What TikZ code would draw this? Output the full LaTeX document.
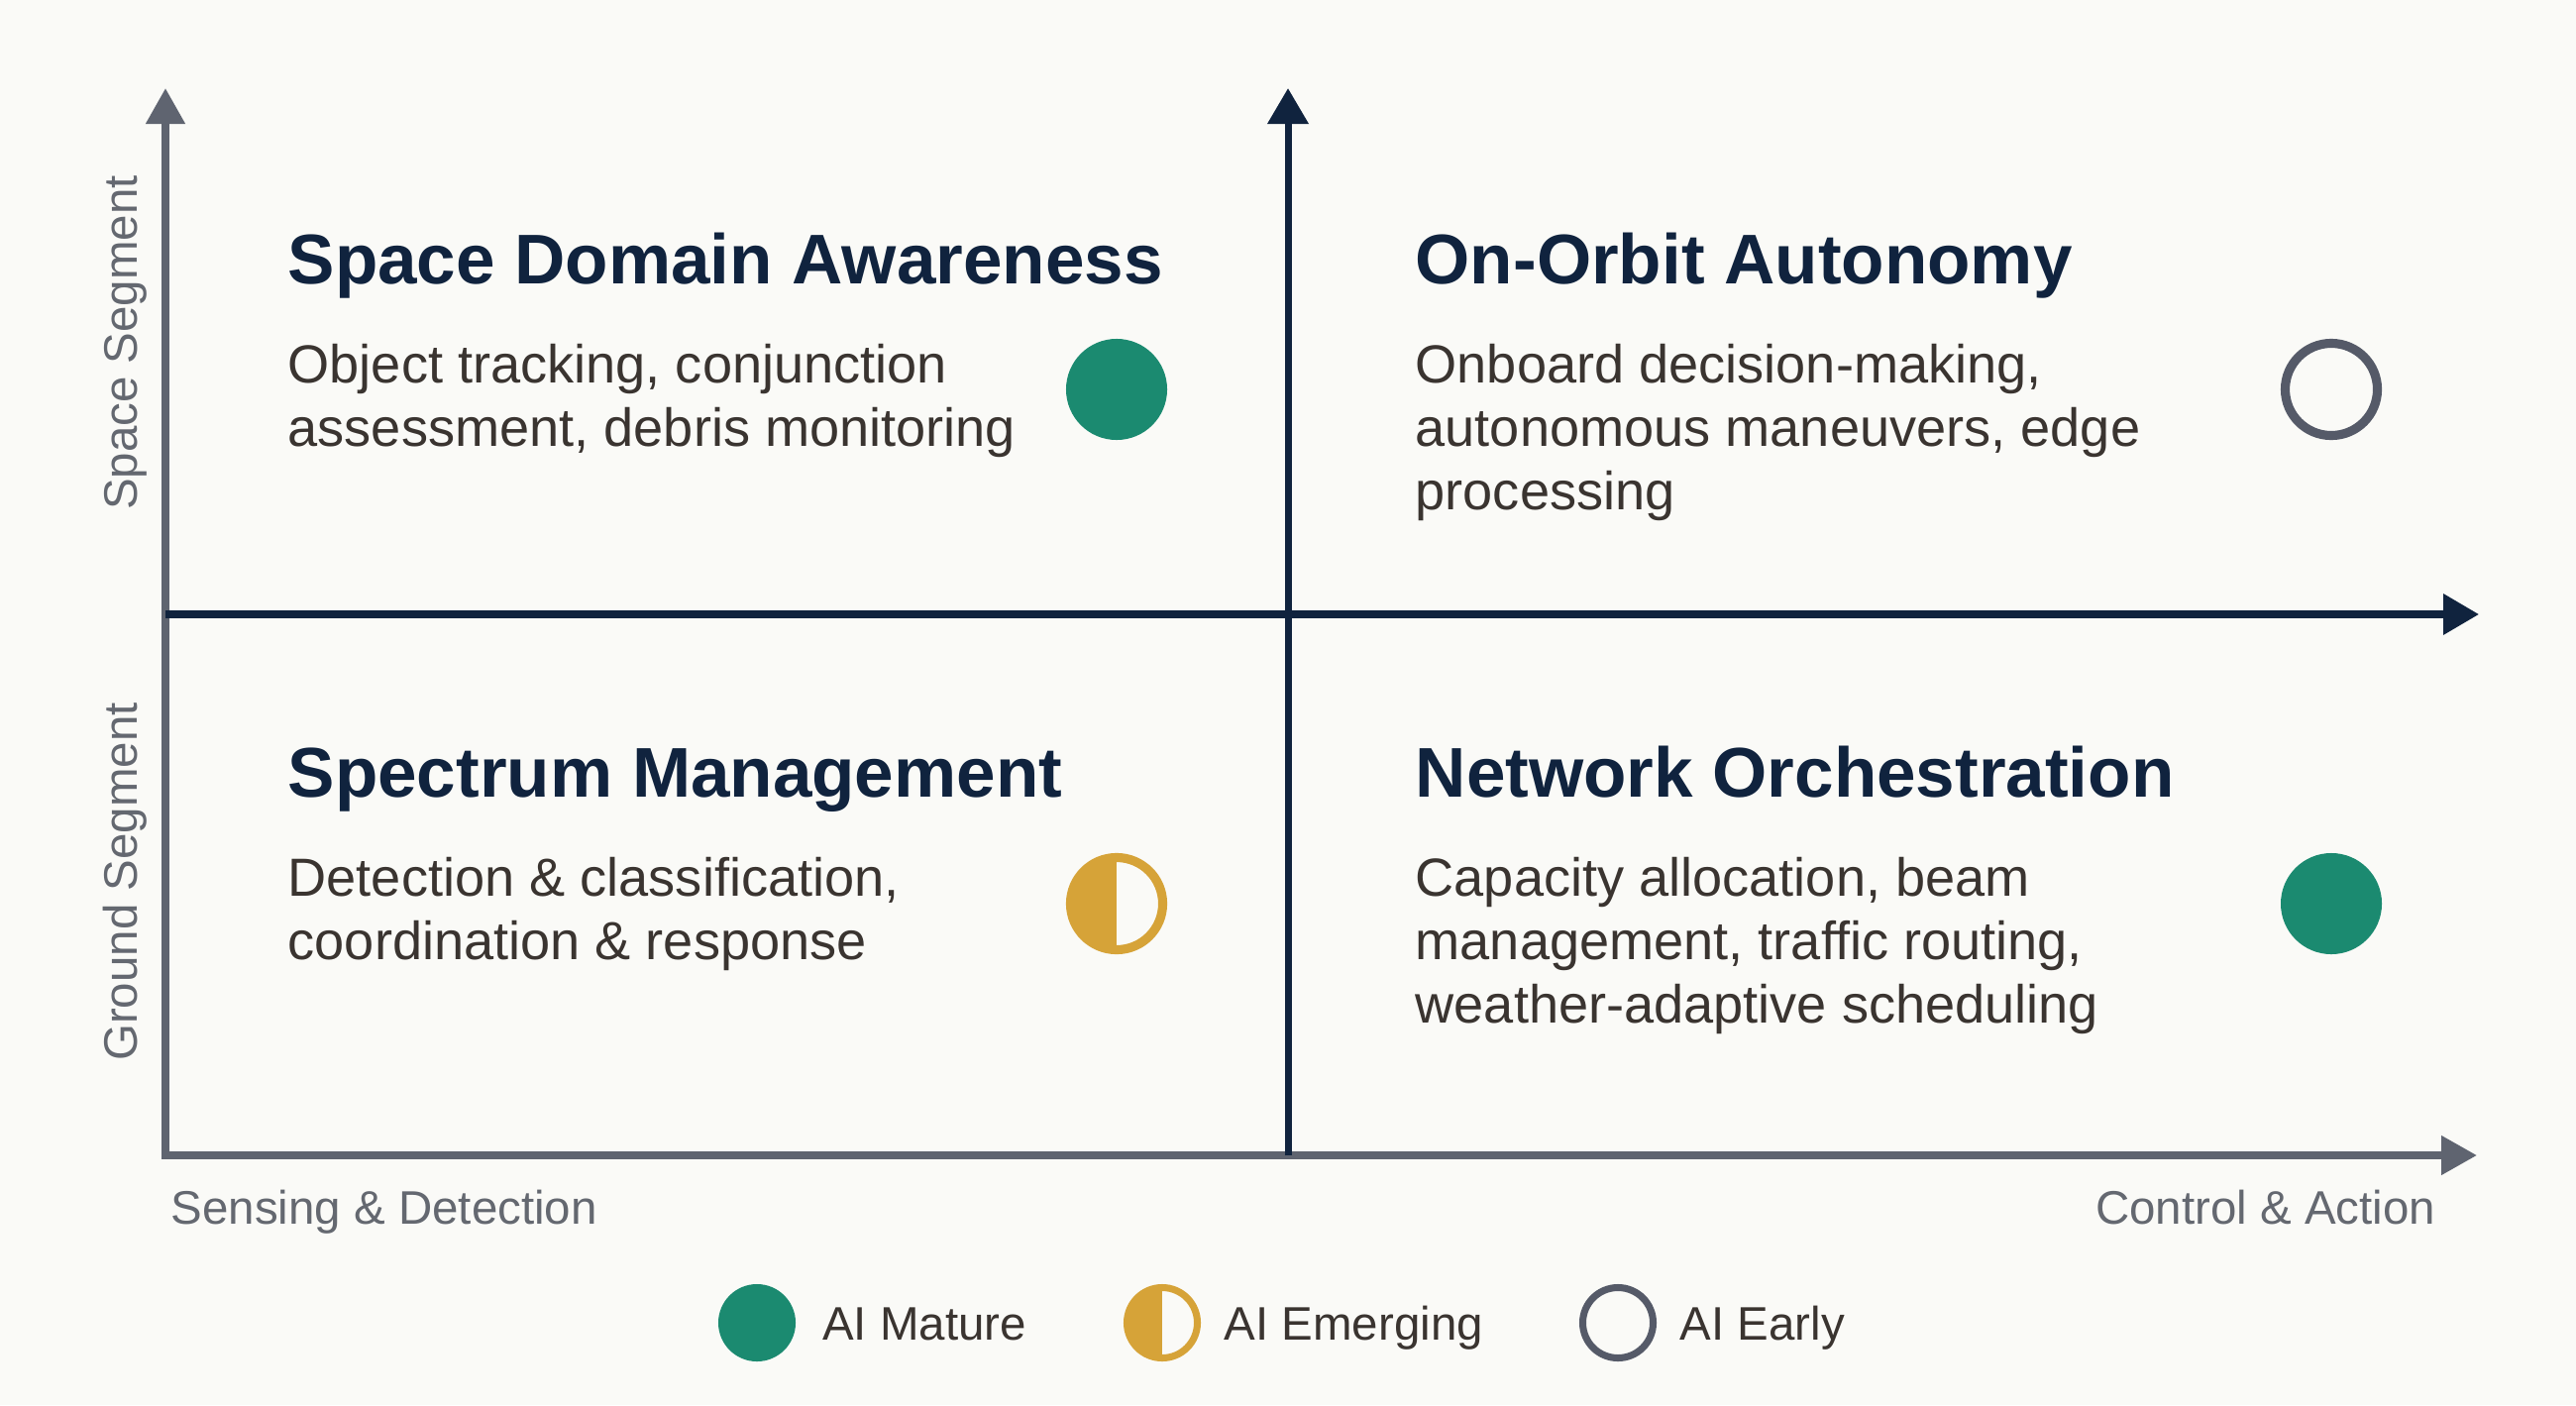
\documentclass[tikz,border=0pt]{standalone}
\usepackage{fontspec}
\setmainfont{Liberation Sans}
\usepackage{xcolor}
\usepackage{tikz}
\usetikzlibrary{arrows.meta,positioning,calc}

\definecolor{bgpaper}{RGB}{250,250,247}
\definecolor{navy}{RGB}{16,35,62}
\definecolor{axisgray}{RGB}{95,100,112}
\definecolor{bodytext}{RGB}{58,52,48}
\definecolor{labelgray}{RGB}{100,104,112}
\definecolor{matgreen}{RGB}{27,138,112}
\definecolor{emgold}{RGB}{214,163,56}
\definecolor{earlygray}{RGB}{85,90,104}

\begin{document}
\begin{tikzpicture}[x=0.01cm,y=-0.01cm,
    quadtitle/.style={anchor=base west,inner sep=0pt,text=navy,font=\fontsize{20.2}{24}\selectfont\bfseries},
    quadbody/.style={anchor=base west,inner sep=0pt,text=bodytext,align=left,font=\fontsize{15.4}{18.2}\selectfont},
    axlabel/.style={inner sep=0pt,text=labelgray,font=\fontsize{13.5}{16}\selectfont},
    mature/.style={circle,inner sep=0pt,fill=matgreen},
    emerging/.style={circle,inner sep=0pt,draw=emgold,
        path picture={\fill[emgold] (path picture bounding box.south west) rectangle (path picture bounding box.north);}},
    early/.style={circle,inner sep=0pt,draw=earlygray}]
    \path[use as bounding box,fill=bgpaper] (0,0) rectangle (2600,1418);

    % axes
    \coordinate (origin) at (167,1166);
    \coordinate (ytop) at (167,89);
    \coordinate (xend) at (2500,1166);
    \coordinate (midtop) at (1300,89);
    \coordinate (midbot) at (1300,1166);
    \coordinate (midleft) at (167,620);
    \coordinate (midright) at (2502,620);
    \draw[axisgray,line width=2.2pt,{Triangle[length=0.36cm,width=0.38cm]}-{Triangle[length=0.36cm,width=0.38cm]}]
        (ytop) -- (origin) -- (xend);
    \draw[navy,line width=2pt,-{Triangle[length=0.36cm,width=0.40cm]}] (midbot) -- (midtop);
    \draw[navy,line width=2pt,-{Triangle[length=0.36cm,width=0.40cm]}] (midleft) -- (midright);

    % quadrants (body nodes sit on their last line)
    \node[quadtitle] (sdaT) at (290,286) {Space Domain Awareness};
    \node[quadbody] (sdaB) at (290,450) {Object tracking, conjunction\\assessment, debris monitoring};
    \node[mature,minimum size=1.02cm] (sdaDot) at (1127,393) {};

    \node[quadtitle] (ooaT) at (1428,286) {On-Orbit Autonomy};
    \node[quadbody] (ooaB) at (1428,514) {Onboard decision-making,\\autonomous maneuvers, edge\\processing};
    \node[early,line width=2.6pt,minimum size=0.93cm] (ooaDot) at (2353,393) {};

    \node[quadtitle] (smT) at (290,804) {Spectrum Management};
    \node[quadbody] (smB) at (290,968) {Detection \& classification,\\coordination \& response};
    \node[emerging,line width=2.6pt,minimum size=0.93cm] (smDot) at (1127,912) {};

    \node[quadtitle] (noT) at (1428,804) {Network Orchestration};
    \node[quadbody] (noB) at (1428,1032) {Capacity allocation, beam\\management, traffic routing,\\weather-adaptive scheduling};
    \node[mature,minimum size=1.02cm] (noDot) at (2353,912) {};

    % axis labels
    \node[axlabel,rotate=90,anchor=base] (spaceL) at (138,346) {Space Segment};
    \node[axlabel,rotate=90,anchor=base] (groundL) at (138,890) {Ground Segment};
    \node[axlabel,anchor=base west] (senseL) at (172,1235) {Sensing \& Detection};
    \node[axlabel,anchor=base east] (ctrlL) at (2459,1235) {Control \& Action};

    % legend
    \foreach \st/\sz/\cx/\lab/\nm in {mature/0.78cm/764/AI Mature/legA,
                                      emerging/0.71cm/1173/AI Emerging/legB,
                                      early/0.71cm/1633/AI Early/legC}{
        \node[\st,line width=2pt,minimum size=\sz] (\nm) at (\cx,1335) {};
        \node[axlabel,text=bodytext,anchor=base west] (\nm txt) at ($(\nm.east)+(23,17)$) {\lab};
    }
\end{tikzpicture}
\end{document}
